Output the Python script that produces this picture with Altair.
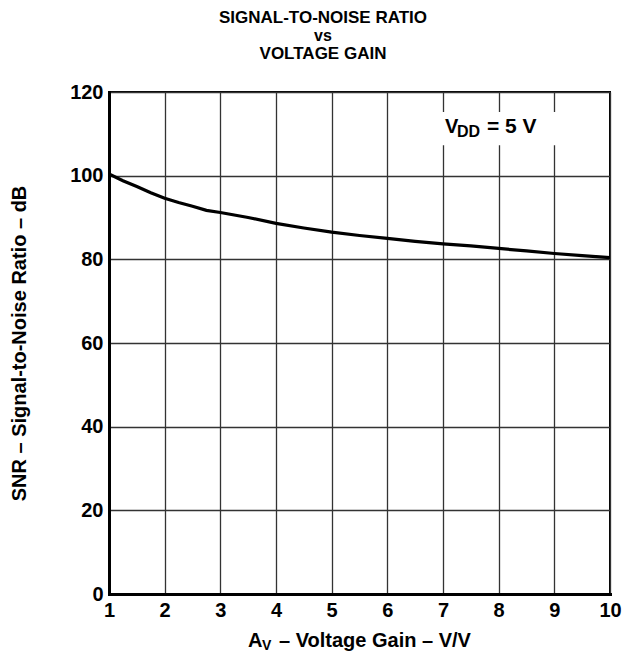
import altair as alt
import pandas as pd

# Data
gain = [1.0, 1.25, 1.5, 1.75, 2.0, 2.25, 2.5, 2.75, 3.0, 3.5, 4.0, 4.5, 5.0, 5.5, 6.0, 6.5, 7.0, 7.5, 8.0, 8.5, 9.0, 9.5, 10.0]
snr = [100.4, 98.8, 97.4, 95.9, 94.6, 93.6, 92.7, 91.7, 91.2, 90.0, 88.6, 87.5, 86.5, 85.7, 85.0, 84.3, 83.7, 83.2, 82.6, 82.0, 81.4, 80.9, 80.4]

x_ticks = [1, 2, 3, 4, 5, 6, 7, 8, 9, 10]
y_ticks = [0, 20, 40, 60, 80, 100, 120]

title_lines = ["SIGNAL-TO-NOISE RATIO", "vs", "VOLTAGE GAIN"]
y_title = "SNR – Signal-to-Noise Ratio – dB"

# annotation box (data units) behind V_DD label
box_x = [6.9, 9.1]
box_y = [107.3, 115.2]

FONT = "Liberation Sans"

df = pd.DataFrame({"gain": gain, "snr": snr})

xs = alt.Scale(domain=[1, 10], nice=False, zero=False)
ys = alt.Scale(domain=[0, 120], nice=False)

base = alt.Chart(df)

line = base.mark_line(color="black", strokeWidth=3.2, clip=True).encode(
    x=alt.X("gain:Q", scale=xs,
            axis=alt.Axis(values=x_ticks, format="d", title=None, grid=True, gridColor="#333", gridWidth=1.3,
                          domainColor="black", domainWidth=3, ticks=False,
                          labelFont=FONT, labelFontWeight="bold", labelFontSize=20,
                          labelColor="black", labelPadding=6, labelFlush=False)),
    y=alt.Y("snr:Q", scale=ys,
            axis=alt.Axis(values=y_ticks, format="d", title=None, grid=True, gridColor="#333", gridWidth=1.3,
                          domainColor="black", domainWidth=3, ticks=False,
                          labelFont=FONT, labelFontWeight="bold", labelFontSize=20,
                          labelColor="black", labelPadding=6)),
)

box = alt.Chart(pd.DataFrame({"x1": [box_x[0]], "x2": [box_x[1]], "y1": [box_y[0]], "y2": [box_y[1]]})).mark_rect(
    color="white").encode(
    x=alt.X("x1:Q", scale=xs), x2="x2:Q",
    y=alt.Y("y1:Q", scale=ys), y2="y2:Q")

def txt(s, x, y, size, align="left", baseline="alphabetic", angle=None):
    kw = dict(text=s, font=FONT, fontWeight="bold", fontSize=size, color="black",
              align=align, baseline=baseline)
    if angle is not None:
        kw["angle"] = angle
    return alt.Chart(pd.DataFrame({"a": [0]})).mark_text(**kw).encode(
        x=alt.value(x), y=alt.value(y))

labels = [
    txt(title_lines[0], 214, -69, 17, align="center"),
    txt(title_lines[1], 214, -51, 16, align="center"),
    txt(title_lines[2], 214, -33, 17, align="center"),
    txt(y_title, -89, 251.5, 20, align="center", baseline="middle", angle=270),
    txt("A", 139, 555, 20),
    txt("V", 153, 558, 14),
    txt("– Voltage Gain – V/V", 170, 555, 20),
    txt("V", 336, 41, 20),
    txt("DD", 348, 45, 16),
    txt("= 5 V", 378, 41, 21),
]

chart = alt.layer(box, line, *labels).properties(
    width=501, height=502,
    autosize=alt.AutoSizeParams(type="none"),
    padding={"left": 101, "top": 84, "right": 21, "bottom": 63},
).configure_view(stroke="black", strokeWidth=2).configure_axis(domainCap="square")

chart.save("out.html", embed_options={"renderer": "svg", "actions": False})
